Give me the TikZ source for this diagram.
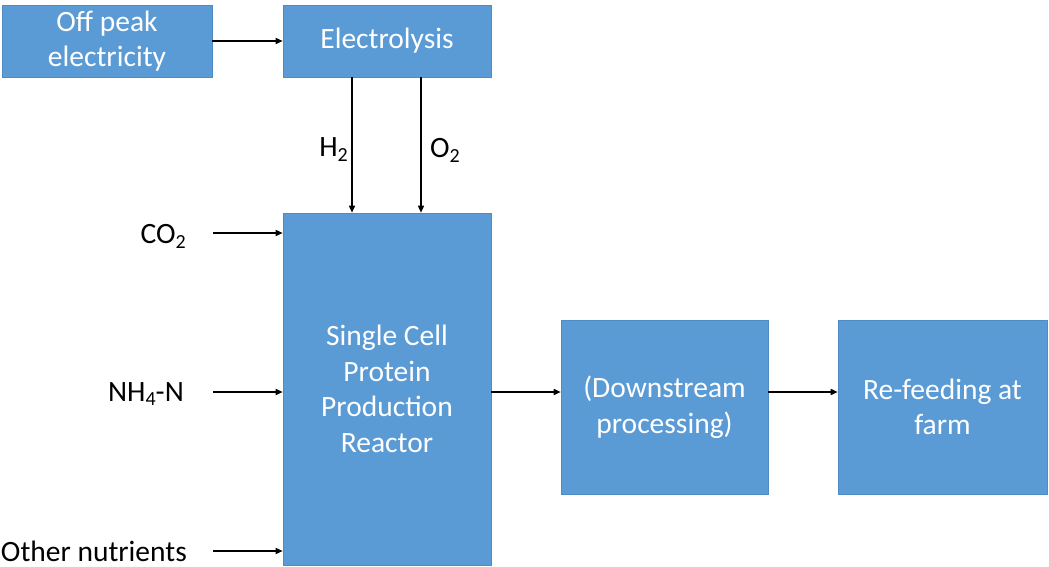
\documentclass[tikz,border=0pt]{standalone}
\usepackage{fontspec}
\setmainfont{Carlito}
\usetikzlibrary{arrows.meta}
\definecolor{boxblue}{HTML}{5B9BD5}
\definecolor{boxedge}{HTML}{4F8CC4}
\newcommand{\sbs}[1]{\raisebox{-0.35ex}{\fontsize{20}{20}\selectfont #1}}
\begin{document}
\begin{tikzpicture}[x=1pt,y=-1pt,
  every node/.style={font=\fontsize{29.5}{35.5}\selectfont},
  blk/.style={draw=boxedge,line width=0.6pt,fill=boxblue,text=white,align=center,inner sep=0pt},
  lbl/.style={inner sep=0pt,text=black},
  arr/.style={draw=black,line width=1.5pt,-{Triangle[length=7pt,width=6pt]}}]
\useasboundingbox (0,0) rectangle (1049,567);
\node[blk,minimum width=210pt,minimum height=72pt] (off) at (107,41) {Off peak\\electricity};
\node[blk,minimum width=208pt,minimum height=72pt] (elec) at (387,41) {Electrolysis};
\node[blk,minimum width=208pt,minimum height=352pt] (reac) at (387,389) {Single Cell\\Protein\\Production\\Reactor};
\node[blk,minimum width=207pt,minimum height=174pt] (down) at (664.5,407) {(Downstream\\processing)};
\node[blk,minimum width=209pt,minimum height=174pt] (feed) at (942.5,407) {Re-feeding at\\farm};
\node[lbl,anchor=east] (co2) at (186,236) {CO\sbs{2}};
\node[lbl,anchor=east] (nh4) at (184,394) {NH\sbs{4}-N};
\node[lbl,anchor=east] (oth) at (187,551) {Other nutrients};
\node[lbl,anchor=east] (h2) at (348,150) {H\sbs{2}};
\node[lbl,anchor=west] (o2) at (430,150) {O\sbs{2}};
\draw[arr] (off) -- (elec);
\draw[arr] (352,0 |- elec.south) -- (352,0 |- reac.north);
\draw[arr] (421,0 |- elec.south) -- (421,0 |- reac.north);
\draw[arr] (213,233) -- (reac.west |- 0,233);
\draw[arr] (213,392) -- (reac.west |- 0,392);
\draw[arr] (213,551) -- (reac.west |- 0,551);
\draw[arr] (reac.east |- 0,392) -- (down.west |- 0,392);
\draw[arr] (down.east |- 0,392) -- (feed.west |- 0,392);
\end{tikzpicture}
\end{document}
